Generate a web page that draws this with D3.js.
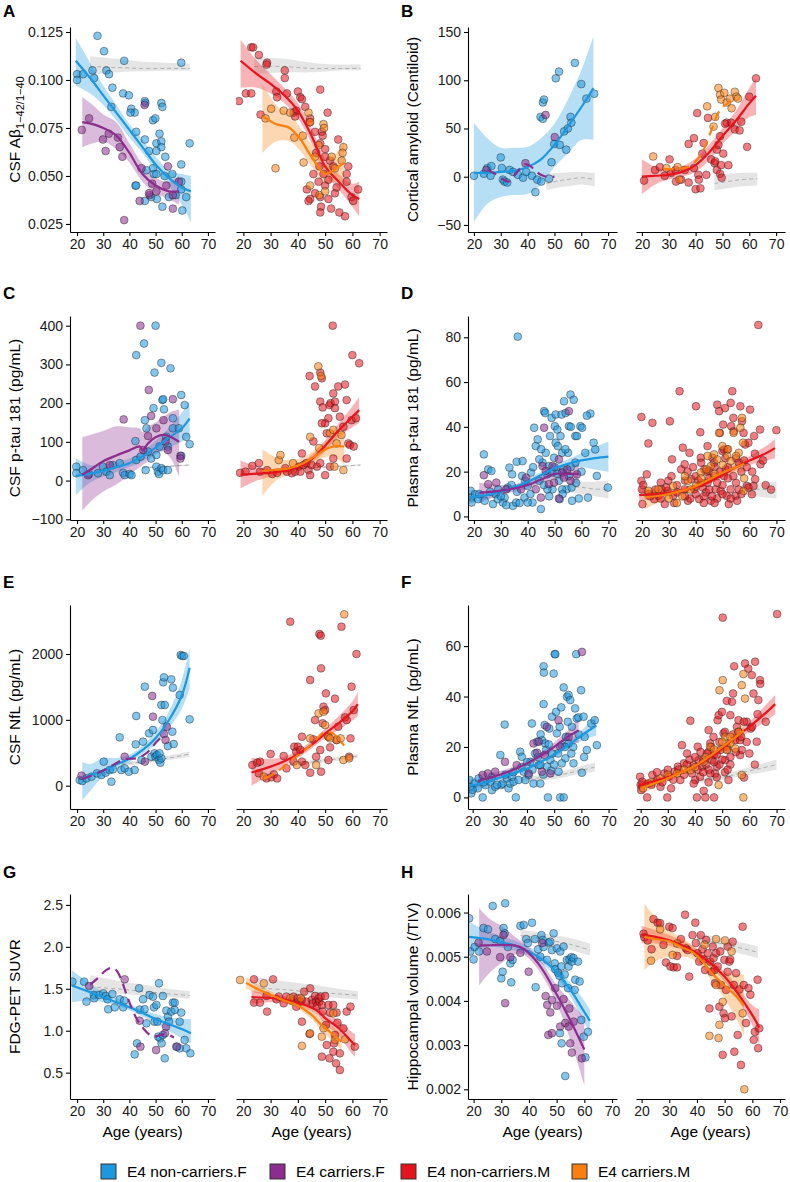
<!DOCTYPE html>
<html><head><meta charset="utf-8">
<script src="https://cdn.jsdelivr.net/npm/d3@7"></script>
<style>body{margin:0;background:#fff} text{font-family:"Liberation Sans",Arial,Helvetica,sans-serif;font-weight:400}</style>
</head><body><svg id="c" width="790" height="1182"></svg>
<script>
// ---------------- DATA ----------------
const xTicks = [20,30,40,50,60,70];
const groupNames = ["E4 non-carriers.F","E4 carriers.F","E4 non-carriers.M","E4 carriers.M"];
const groupColors = ["#1B98DF","#8B2C8E","#E5141C","#F97F0E"];

// Panel A  CSF Abeta ratio
const A_bF = [[27.8,.123],[20,.103],[20,.100],[22.3,.103],[25.9,.105],[26.5,.101],[30.3,.115],[31.2,.105],[32.2,.103],[33.5,.096],[38,.110],[37.6,.093],[39.8,.092],[40.7,.085],[42,.083],[40.4,.083],[33.1,.086],[45.9,.089],[46.1,.088],[49,.079],[49.9,.080],[52.2,.088],[52.6,.086],[51.5,.072],[50.3,.067],[52.2,.068],[52.2,.065],[53.7,.060],[50.3,.063],[42.6,.073],[45.9,.069],[47.5,.063],[49,.054],[49.4,.051],[46.5,.053],[42.3,.045],[42.6,.045],[50.3,.051],[53.4,.050],[56.4,.051],[59.8,.047],[59.8,.043],[60.2,.032],[61.7,.039],[63,.067],[59.8,.056],[52.6,.034],[50.5,.038],[48.3,.039],[45.9,.037],[55.1,.039],[57.7,.040],[59.8,.109]];
const A_pF = [[21.8,.074],[24.6,.080],[29.9,.069],[30.9,.063],[32.1,.072],[35.6,.070],[36.3,.065],[37.3,.060],[38,.027],[45.8,.087],[44.6,.054],[43.9,.037],[47.7,.040],[48.7,.046],[50.3,.042],[54.1,.045],[54.7,.055],[56.6,.040],[56.6,.033],[58.9,.047],[47.5,.041]];
const A_rM = [[18.4,.089],[20.9,.093],[22.9,.093],[22.9,.117],[23.6,.117],[25.7,.113],[28.7,.109],[28.5,.108],[26.3,.082],[32.1,.094],[32.4,.091],[35.2,.105],[35.2,.101],[36,.093],[40,.094],[40.9,.091],[41.5,.090],[38.4,.083],[39.4,.084],[39,.081],[42.7,.086],[44.5,.080],[44.3,.078],[48.2,.095],[46.3,.073],[48.8,.073],[49.1,.071],[48.2,.067],[46.7,.062],[50,.064],[50.9,.083],[54.8,.069],[50,.060],[51.8,.058],[45.7,.051],[47.6,.047],[43.3,.043],[44.5,.038],[43.9,.037],[46.3,.041],[48.2,.039],[48.5,.034],[48.2,.031],[50,.045],[51.2,.038],[52.2,.033],[53.6,.041],[55.2,.031],[57.3,.029],[57.9,.051],[58.5,.055],[57.9,.047],[59.7,.039],[60.3,.037],[62.1,.043],[53,.055],[54.2,.044],[51.2,.048],[47.9,.055],[49.4,.051]];
const A_oM = [[28.1,.080],[30.2,.085],[34.8,.084],[37.2,.083],[41.8,.071],[38.7,.070],[42.1,.057],[43.9,.083],[44.5,.078],[49.4,.077],[49.6,.075],[47.6,.066],[52.4,.060],[56.7,.065],[56.4,.062],[56.1,.058],[53.6,.054],[44.5,.045],[47.9,.040],[50,.042],[46.3,.060],[31.8,.054]];
const A_bF_fit = [[19.5,.110,.097,.122],[25,.101,.093,.109],[30,.092,.087,.097],[35,.083,.079,.087],[40,.074,.070,.077],[45,.065,.062,.069],[50,.056,.053,.060],[55,.049,.045,.053],[60,.044,.035,.051],[63.5,.042,.026,.050]];
const A_pF_fit = [[22,.078,.065,.091],[26,.077,.067,.087],[30,.075,.068,.082],[35,.071,.064,.078],[40,.062,.057,.067],[45,.051,.047,.056],[50,.045,.041,.049],[55,.042,.038,.047],[59,.042,.035,.050]];
const A_rM_fit = [[19,.110,.096,.121],[25,.103,.096,.110],[30,.098,.093,.103],[35,.092,.088,.096],[40,.084,.080,.088],[45,.071,.067,.075],[50,.055,.051,.059],[55,.047,.043,.051],[60,.040,.034,.046],[62.5,.038,.029,.047]];
const A_oM_fit = [[27,.081,.062,.098],[32,.077,.068,.087],[37,.075,.068,.082],[41,.069,.063,.075],[45,.060,.055,.066],[50,.051,.046,.056],[53,.053,.047,.060],[57,.057,.045,.068]];
const A_ctlF = [[25,.107,.1027,.1123],[35,.1065,.104,.111],[45,.106,.1045,.1095],[55,.106,.1048,.109],[63,.106,.105,.1085]];
const A_ctlM = [[24,.107,.103,.112],[35,.107,.104,.111],[45,.106,.104,.109],[55,.106,.105,.108],[63,.106,.105,.108]];

// Panel B  Cortical amyloid
const B_bF = [[20,1],[23.7,3],[25,9],[26.5,11],[26.2,1],[30,20],[30.4,9],[30.8,-3],[31.4,-5],[32.4,-6],[33.3,7],[34.6,5],[36.4,2],[38.3,-1],[39.5,5],[41.6,1],[42.9,-16],[43.6,-3],[45.1,-5],[48,-2],[48.9,15],[44.8,62],[45.7,77],[46.1,80],[45.7,60],[49.9,34],[50.5,102],[51.7,109],[52,33],[53.6,47],[54.4,28],[55,50],[56,62],[56.3,56],[57.6,118],[60,96],[61.9,81],[64.8,86]];
const B_pF = [[24.6,7],[39.2,14],[46.7,64],[50.1,41]];
const B_rM = [[20.8,-4],[24.9,7],[26.7,10],[28.5,1],[30.3,18],[30.9,4],[32.5,7],[32.7,-5],[34.6,-3],[36,7],[37.4,-6],[37.4,34],[39.4,40],[39.4,9],[40,-13],[40.6,66],[41,2],[41.2,-3],[41.8,-12],[42.5,24],[43,35],[44,2],[44.6,61],[45.8,18],[47.1,14],[47.3,16],[47.9,28],[48.5,33],[49.1,42],[47.9,7],[49.1,3],[49.7,-1],[49.5,12],[50.3,24],[51.6,56],[52.2,12],[53.2,56],[54.6,49],[56.4,48],[57,57],[59.2,31],[60,83],[62.5,102],[51,55]];
const B_oM = [[24.2,21],[29.1,9],[33.3,10],[34,-3],[44.3,73],[47.3,62],[46.7,52],[48.5,92],[49.1,85],[49.5,80],[50.7,87],[51.6,77],[54.6,88],[55.2,83],[55.8,81],[52.8,81],[53.4,71]];
const B_bF_fit = [[20,4,-47,56],[25,4,-28,40],[30,5,-21,30],[35,6,-19,30],[40,10,-18,31],[45,18,-8,40],[50,33,10,55],[55,52,24,80],[60,72,38,110],[64.5,92,38,145]];
const B_pF_fit = [[25,7],[28,3],[31,-3],[33,-5],[35,1],[37,8],[39,13],[41,11],[43,6],[45,2],[47,0],[50,0]];
const B_rM_fit = [[20,0,-18,18],[25,1,-8,10],[30,2,-3,8],[35,5,0,11],[40,12,5,19],[45,25,17,33],[50,42,34,50],[55,58,48,68],[60,76,62,92],[62.5,84,64,102]];
const B_oM_fit = [[28,8],[33,8],[37,10],[40,16],[43,28],[45,42],[47,56],[48,64],[50,72],[53,78],[55,82]];
const B_ctlF = [[47,-7,-14,3],[52,-4,-11,4],[57,-2,-9,5],[60,-1,-8,5],[65,-3,-10,4]];
const B_ctlM = [[47,-7,-14,2],[52,-5,-12,3],[57,-3,-10,4],[63,-2,-9,4]];

// Panel C  CSF p-tau 181
const C_bF = [[19.7,36],[19.7,19],[22.3,27],[24.6,17],[28,19],[29.9,36],[31.2,23],[32.5,14],[33.7,40],[36.3,45],[37.6,20],[38.2,14],[40.1,17],[40.8,14],[42.6,53],[44.3,62],[42.3,102],[42.6,324],[45.6,354],[46.5,135],[45.9,156],[46.2,27],[47.1,75],[48.3,57],[49.2,187],[49.6,279],[50,400],[50.3,66],[50.3,36],[50.9,23],[51.3,17],[51.5,88],[52.2,304],[52.6,208],[52.9,210],[53.2,184],[52.2,32],[52.9,27],[54.1,113],[54.7,88],[55.7,290],[56.6,161],[56.6,135],[58.9,135],[59.8,221],[61.1,195],[59.8,64],[61.7,113],[63,94],[54.7,27]];
const C_pF = [[24.2,14],[37.8,158],[44.2,400],[47.4,234],[48.3,167],[53,156],[53.8,101],[54.7,79],[56.6,210],[59.5,64],[59.5,57],[45.3,79],[47.1,115],[50.3,135],[32.5,40]];
const C_rM = [[18.8,20],[20.8,23],[23.3,38],[25.7,45],[26.1,23],[28.7,27],[30.6,17],[32.4,20],[35.4,32],[36,23],[37.8,19],[39,23],[40.3,36],[40.9,23],[41.5,70],[42.1,40],[43.1,45],[43.9,27],[44.5,14],[45.1,40],[44.3,270],[46.3,243],[48.2,279],[48.8,264],[48.2,204],[49.1,189],[50,148],[50.6,122],[51.2,161],[51.6,195],[52,200],[52.8,400],[53,225],[53.6,204],[53.6,187],[54.8,243],[55.4,165],[56.7,139],[57.3,248],[57.9,208],[58.5,96],[59.1,92],[59.7,156],[60,324],[60.5,88],[61.3,161],[62.5,303],[47,36],[48.2,45],[50,14],[51.8,36],[53,57],[57.9,57],[45.7,101],[48.8,148]];
const C_oM = [[33,53],[33.6,66],[44.5,113],[47.5,295],[48.5,270],[51.8,122],[53,131],[54.2,96],[56,118],[56.7,27],[53.4,36],[38.2,45],[47.8,84]];
const C_bF_fit = [[19.5,12,-38,58],[25,18,-5,40],[30,25,10,42],[35,35,22,48],[40,45,35,57],[45,62,50,76],[50,85,68,103],[55,110,85,135],[60,135,100,175],[63,160,115,205]];
const C_pF_fit = [[22,15,-78,112],[25,28,-55,118],[30,50,-28,128],[35,65,-10,140],[40,78,15,138],[44,88,35,135],[45,78,40,125],[47,95,50,140],[50,112,70,150],[53,118,75,165],[56,112,55,178],[59,100,10,183]];
const C_rM_fit = [[19,15,-20,52],[25,18,0,36],[30,20,10,30],[35,25,17,33],[40,35,27,44],[45,55,45,66],[50,90,76,104],[55,130,112,148],[60,165,138,192],[62.5,182,148,215]];
const C_oM_fit = [[27,25,-40,80],[32,28,0,60],[37,32,15,52],[42,45,28,60],[46,62,45,78],[50,80,60,100],[53,88,62,115],[57,88,42,130]];
const C_ctlF = [[45,33,31,35],[55,37,35,39],[63,40,38,42]];
const C_ctlM = [[26,28,26,30],[45,33,31,35],[63,40,38,42]];

// Panel D  Plasma p-tau 181
const D_bF = [[18.8,11.4],[19.1,8.4],[20.4,9.9],[19.1,6.2],[21.6,7.7],[23.7,27.7],[25.3,21],[26.5,20.3],[27.1,5.5],[28.1,9.9],[28.9,7.7],[30.8,6.2],[31.4,8.4],[32.6,12.9],[33.2,21.8],[34.2,18.8],[34.5,4.7],[35.7,6.2],[36.3,80.3],[35.9,24.4],[38.1,24.7],[37.9,18.1],[38.8,8.4],[40,13.6],[41.2,19.6],[41.8,6.2],[42.4,39.6],[43,31.4],[43.7,34.4],[44.3,15.9],[44.9,3.3],[45.5,24],[46.1,47],[46.5,46.2],[46.7,28.4],[47.3,18.8],[47.9,22.5],[48.3,35.9],[48.9,44],[49.2,12.1],[49.8,26.2],[50.1,40.3],[50.4,45.5],[50.4,32.9],[51,38.8],[51.2,31.4],[51.6,15.9],[51.9,7.7],[52.2,35.9],[52.6,45.5],[52.8,28.4],[53.2,21],[53.5,51.4],[54.1,46.2],[54.4,12.1],[55,28.4],[55.3,40.3],[55.9,54.4],[56.3,12.9],[56.5,7],[57.1,52.1],[57.7,35.9],[58.3,35.9],[59.6,40.3],[60.2,39.6],[61.4,28.4],[62.4,8.4],[63.3,45.9],[64.5,32.9],[65.1,29.9],[65.7,18.1],[69.8,12.9],[55.3,18.1],[49.2,19.6],[44.3,25.5],[40,6.2],[52.8,12.1],[57.7,24],[47.3,12.1],[22,10],[24,7],[26,11],[29,12],[30,9],[32,5],[34,14],[36,11],[37,6],[39,16],[41,10],[42,22],[45,30],[46,14],[48,9],[50,22],[51,19],[53,10],[54,30],[56,22],[58,15],[59,8],[60,20],[62,45],[56,40]];
const D_pF = [[23.7,18.4],[25.3,14.4],[28.3,15.1],[32,12.1],[37.5,12.1],[39.4,17.3],[43,12.1],[44.9,8.4],[46.1,39.6],[45.5,22.5],[46.7,20.3],[47.9,14.4],[49.8,15.1],[51.6,25.5],[52.8,19.6],[53.5,17.3],[54.7,21],[55.3,47],[55.9,15.9],[51.6,8],[58.3,18.8],[49.2,22.5]];
const D_rM = [[19.8,44.4],[19.8,15.9],[20,12.1],[20.2,5.5],[21.8,18.8],[22.4,32.6],[23.9,41.8],[24.6,7.7],[26.1,9.2],[27,15.1],[28.5,5.5],[29.5,11.4],[29.8,15.9],[30.4,42.5],[31.2,25.5],[31.6,9.2],[33.2,10.7],[34,55.9],[34.6,21],[35.2,30.7],[35.9,23.3],[37.1,7],[37.7,28.4],[38.3,16.6],[39.5,12.1],[40.1,49.2],[41.3,7.7],[41.7,37.6],[41.9,26.2],[42.6,12.9],[43.2,21],[43.8,10.7],[44.4,31.4],[45,20.3],[45.6,7],[46.2,26.2],[46.8,24],[47.4,12.1],[48,49.9],[48.7,47],[49,37.3],[49.3,11.4],[49.9,29.2],[50.2,41],[50.5,29.9],[50.9,48.4],[51.1,21],[51.5,9.2],[51.7,29.9],[52.3,5.5],[53,50.7],[53.2,40.3],[53.6,55.9],[54,44],[54.1,38],[54.8,9.2],[55.4,7],[56,24],[56.6,49.2],[57.2,42.5],[57.8,37.3],[58.4,32.1],[59,13.6],[59.6,32.9],[60.2,47.7],[60.9,9.9],[61.7,35.9],[62.1,16.6],[63.3,85.5],[63.9,38.8],[64.1,23.3],[70,38.5],[61.5,13.6],[59.6,12.9],[44.4,15],[46.8,18],[50.5,18],[53,12.1],[35.9,12.1],[27.3,12.1],[22.4,10],[38,8],[42,15],[45,12],[48,8],[50,14],[52,17],[55,15],[57,10],[36,16],[40,18],[43,9],[47,6],[33,14],[36,9],[37,20],[39,22],[40,10],[41,16],[42,24],[43,6],[44,20],[45,17],[46,9],[47,22],[48,15],[49,20],[50,10],[51,26],[52,22],[53,8],[54,18],[55,26],[56,12],[57,20],[58,25],[59,22],[61,20],[62,28],[65,25],[66,14],[68,12],[20.5,14],[23,9],[25,12],[27,8],[29,13],[31,18],[32,6]];
const D_oM = [[22.4,11.4],[26.1,12.1],[31.6,13.6],[37.1,15.9],[41.9,19.6],[45.6,22.5],[48,25.5],[49.9,31.4],[51.7,27],[54.1,37.3],[56.6,39.6],[57.2,44],[57.6,32.9],[57.8,11.4],[56,28.4],[53,24.7],[46.8,27.7],[44.4,27],[40.1,13.6],[48.7,37.3],[30,8],[35,9],[38,12],[42,17],[44,21],[47,19],[50,23],[52,30],[55,27],[58,17],[36,18],[33,6]];
const D_bF_fit = [[18,8.5,5.5,12],[25,9.5,8,11],[30,11,9.8,12.2],[35,13,12,14],[40,15.5,14.3,16.8],[45,18.5,17.2,19.8],[50,21.5,20,23.2],[55,23.5,21.6,25.5],[60,25,22,28.3],[65,26,21,31],[70,26.7,20,33.5]];
const D_pF_fit = [[22,10.5,6,15],[30,11.5,9.5,14],[35,12.5,11,14.3],[40,14,12.3,15.8],[45,16.5,14.8,18.3],[50,19,16.7,21.5],[55,19,16,22],[59,19,14,24]];
const D_rM_fit = [[19,9.5,6.5,12.5],[25,10,8.3,11.7],[30,10.5,9.3,11.7],[35,11.5,10.6,12.4],[40,13,12,14],[45,15.5,14.5,16.5],[50,18.5,17.3,19.7],[55,22,20.5,23.5],[60,25,23,27],[65,27.5,24.5,30.5],[69.5,30.5,26,34.5]];
const D_oM_fit = [[21,8.5,3,13.5],[25,9,5.5,12.5],[30,10,7.8,12.2],[35,11.5,10,13],[40,13.5,12.2,14.8],[45,16.5,15,18],[50,19.5,17.8,21.2],[55,22,19.5,24.5],[58,23.5,20,27]];
const D_ctlF = [[55,13.5,11,15.5],[60,13,10,15.5],[65,12.2,9,15.5],[70,12,8,16]];
const D_ctlM = [[57,12.5,10,15],[62,12.2,9,15],[66,12,8.5,15],[70,12,8,15.5]];

// Panel E  CSF NfL
const E_bF = [[21,86],[22,71],[23.6,111],[25.5,137],[27.6,187],[29.3,162],[30.2,365],[30.9,197],[32.5,238],[33.1,61],[33.7,248],[36.3,734],[36.9,238],[38.2,263],[39.8,213],[42,238],[42.4,628],[42.6,1058],[44.6,390],[45.2,668],[45.9,1504],[47.5,795],[48.4,440],[49,846],[49.6,491],[50,440],[50.5,466],[51.3,390],[51.8,349],[52.2,415],[52.2,1225],[52.9,1570],[53.2,1645],[53.5,1225],[52.6,997],[54.7,602],[56,1615],[56.6,1489],[56.4,820],[56.9,633],[59.2,1377],[59.6,1985],[60.2,1970],[60.8,1970],[63,1008],[51.5,491]];
const E_pF = [[21.7,152],[38.2,440],[48.7,1362],[49,1048],[54.3,896],[53.2,785],[53.8,694],[45.9,365]];
const E_rM = [[23.3,314],[25.1,349],[25.7,187],[26.1,365],[28.5,111],[30,481],[30.2,127],[31.2,172],[32.4,111],[34.8,451],[35.8,263],[37.2,2491],[38.4,365],[38.7,592],[39.4,516],[40,592],[40.9,542],[41.5,365],[42.7,314],[44.5,1605],[44.5,197],[45.7,704],[46.3,997],[46.7,440],[47.9,2304],[48.4,2278],[48.5,1782],[48.5,213],[49.1,947],[49.4,1200],[50,1149],[50.3,1402],[51.2,744],[51.8,582],[53.6,1321],[54.2,694],[54.8,896],[56,2415],[57.3,1038],[57.9,997],[58.8,440],[59.3,719],[59.7,1504],[61.5,2000],[60.5,1149],[41.5,744],[48.2,542],[51.2,390]];
const E_oM = [[27.5,137],[39.6,314],[44.5,719],[46.7,314],[47.6,1099],[49.4,1124],[50,921],[51.2,744],[54.2,694],[55.7,719],[57,2602],[56.7,390],[58.8,415],[51.8,719]];
const E_bF_fit = [[22,110,-220,360],[25,160,-80,330],[30,230,140,420],[35,320,250,420],[40,410,360,470],[45,540,480,610],[50,720,630,820],[55,990,870,1120],[60,1370,1160,1600],[63,1790,1480,2100]];
const E_pF_fit = [[22,100],[26,160],[30,230],[34,320],[38,400],[43,420],[46,480],[48,550],[50,650],[52,730],[53.5,790]];
const E_rM_fit = [[23,200,0,420],[30,290,170,410],[35,370,300,440],[40,480,420,540],[45,620,565,680],[50,790,720,860],[55,950,850,1060],[60,1130,990,1280],[62,1240,1060,1420]];
const E_oM_fit = [[28,110],[33,230],[38,400],[42,520],[46,670],[50,820],[53,790],[55,700],[57,610]];
const E_ctlF = [[37,330,300,360],[45,360,330,390],[55,420,390,460],[63,480,440,520]];
const E_ctlM = [[37,330,300,360],[45,360,330,390],[55,410,380,440],[62,450,420,480]];

// Panel F  Plasma NfL
const F_bF = [[18.8,6.9],[19.1,4.2],[19.5,1.6],[20.7,5.5],[21.9,3.6],[22.2,7.5],[23.7,0],[24.7,4.9],[26.5,6.2],[27.1,2.9],[28.3,4.2],[30.2,16.8],[30.5,4.9],[31,5.5],[31.8,28.9],[32.6,7.5],[33.2,3.6],[33.8,5.5],[34.5,8.2],[35.1,6.2],[35.9,0],[36.9,6.9],[37.5,18.1],[38.1,16.1],[38.8,10.2],[39.4,6.9],[40.6,8.9],[41.2,14.1],[41.8,29.3],[42.4,5.5],[43,17.4],[43.7,22.1],[44.3,12.8],[44.9,5.5],[45.5,22.7],[46.1,52],[46.2,49.5],[46.1,37],[46.5,28.7],[46.7,21.4],[47,18.8],[47.3,12.2],[47.7,0],[48.2,27.3],[48.6,14.8],[48.9,10.6],[49.2,32],[49.8,49.1],[50.2,56.8],[50.4,56.8],[50.7,33.9],[51,25.4],[51.4,17.4],[51.6,10.2],[52.2,0],[52.6,35.7],[52.8,20.7],[53.5,43.6],[53.5,0],[54.1,15.5],[54.3,24],[54.7,39.9],[55.3,40.6],[55.9,38.6],[56.3,17.4],[56.5,28],[57.1,13.5],[57.7,35.3],[58.1,56.8],[58.3,31.3],[58.9,31.7],[59.9,42.5],[60.2,9.8],[60.8,32],[61.2,24],[62,18.8],[63.6,29.3],[64.9,30.6],[65.7,20.7],[55.3,21.4],[49.2,17.4],[44.9,12.8],[52.8,13.5],[20,3],[24,6],[27,8],[29,5],[32,9],[35,10],[38,12],[40,14],[42,11],[44,16],[46,9],[48,21],[50,13],[52,28],[54,20],[55,30],[57,20],[59,25],[61,16],[45,25]];
const F_pF = [[23.7,8.9],[25.6,9.5],[28.3,10.2],[31.9,14.1],[36.2,12.8],[40.6,9.5],[42.4,21.4],[43.7,17.7],[44.3,22.1],[46.5,16.8],[47.3,28],[48.6,9.5],[51.6,30.6],[52.2,20.1],[55.3,24],[60.2,57.7],[45.5,10.2]];
const F_rM = [[19.8,8.2],[20,4.9],[20.2,2.9],[20.6,6.2],[22.4,0],[22.7,5.5],[24.3,8.9],[26.1,6.9],[27.3,4.2],[28.8,9.5],[29.8,0],[30.4,8.2],[31.2,3.6],[32.5,10.2],[33.7,12.2],[34.6,6.9],[35.2,20.7],[35.9,13.5],[37.1,17.4],[38.3,30.4],[38.9,9.5],[39.5,12.8],[40.1,6.9],[40.7,0],[41,20.1],[41.3,14.8],[41.9,8.2],[42.6,12.2],[43.2,2.6],[43.8,0],[44.4,17.4],[45,26.7],[45.6,21.4],[46.2,14.8],[47,0],[47.4,9.5],[48,12.2],[48.3,30.6],[48.7,32.6],[49.3,18.8],[49.9,33.9],[50.2,71.3],[50.5,25.4],[51.1,14.8],[51.7,38.3],[52.3,6.9],[53,32.6],[53.6,37.9],[54,41.2],[54.4,52],[54.8,22.7],[55.4,28],[56,30.6],[56.6,16.8],[57.2,18.8],[58,7.9],[58.4,53.1],[59,30],[59.6,51.1],[60,17.4],[60.5,27.3],[60.9,48.5],[61.5,41.2],[62.1,53.8],[62.7,22.1],[63.3,38.6],[63.9,46.5],[70.2,72.7],[46.8,24],[51.7,20.1],[56.6,22.7],[45.6,9.5],[39.5,5.5],[43,15],[45,11],[47,17],[49,13],[51,10],[53,16],[24,5],[26,10],[28,6],[30,11],[32,7],[34,11],[36,9],[37,13],[38,15],[40,16],[41,11],[42,18],[43,10],[44,13],[45,18],[46,20],[47,14],[48,17],[49,22],[50,15],[51,26],[52,19],[53,13],[54,25],[55,18],[56,26],[57,24],[58,30],[59,22],[61,28],[62,13],[63,33],[64,45],[66,30],[45,6],[48,8],[52,11]];
const F_oM = [[20.9,3.6],[27.3,7.5],[33.4,9.5],[38.3,10.8],[43.2,14.1],[45.6,20.1],[48.7,4.9],[49,42.5],[50.2,46.5],[51.1,24],[51.7,18.8],[57.2,44.5],[57.8,48.9],[58.4,39.2],[57.8,0],[57.2,8.9],[53,21.4],[54.8,19.4],[24,6],[30,9],[36,11],[40,12],[44,16],[47,19],[50,22],[53,24],[56,26]];
const F_bF_fit = [[18,4.5,1,8],[25,6,4.2,7.8],[30,7.8,6.8,8.8],[35,9.5,8.7,10.3],[40,11.5,10.8,12.2],[45,14,13.2,14.8],[50,17,16,18],[55,20.5,19.2,21.8],[60,24.5,22.5,26.5],[65.5,28.5,24.5,32.5]];
const F_pF_fit = [[22,6.5,4,9.5],[30,9,7.5,10.5],[35,11,9.8,12.2],[40,13.5,12.3,14.7],[45,16.5,15.2,17.8],[50,20,18.2,21.8],[55,24,21.5,26.5],[59,26.5,21.5,31.5]];
const F_rM_fit = [[19,4.5,2.5,6.5],[25,6.5,5.3,7.7],[30,8,7,9],[35,10,9.2,10.8],[40,12.5,11.6,13.4],[45,15.5,14.6,16.4],[50,19.5,18.4,20.6],[55,24,22.6,25.4],[60,28,26,30],[65,32.5,29.5,35.5],[69.5,37,33,40.5]];
const F_oM_fit = [[20,3.5,1,7],[25,5.5,3.8,7.2],[30,7.5,6.3,8.7],[35,10,9,11],[40,12.5,11.4,13.6],[45,16,14.7,17.3],[50,20,18.4,21.6],[55,24,21.5,26.5],[58,26.5,22.5,30.5]];
const F_ctlF = [[38,7,6,8],[50,8.5,7.3,9.7],[58,10.3,9,11.8],[65,12,10.3,13.8]];
const F_ctlM = [[40,6.5,5.5,7.5],[50,8,7,9.2],[60,10.5,9,12],[70,13,11,15]];

// Panel G  FDG-PET SUVR
const G_bF = [[18.2,1.585],[22.7,1.585],[23.6,1.347],[26.4,1.426],[26.5,1.387],[28.4,1.426],[30,1.446],[31,1.414],[31.6,1.375],[31.9,1.256],[33.5,1.438],[34.4,1.279],[36.3,1.375],[37.6,1.279],[38,1.359],[43.7,1.506],[43.9,1.252],[42.9,0.85],[42,0.718],[45.2,1.375],[45.8,1.256],[46.5,1.088],[47.7,1.426],[49,1.406],[49.4,1.279],[49.6,1.108],[50.3,1.307],[50.7,1.108],[51.3,1.566],[51,0.929],[51.7,0.91],[52.3,0.85],[52.8,1.414],[52.8,0.949],[53.5,0.671],[54.1,1.24],[54.7,1.168],[55.1,1.108],[56,1.228],[56.6,1.335],[57.3,1.248],[57.3,1.335],[57.9,0.81],[59.2,1.108],[59.8,1.216],[61.1,0.89],[61.7,0.79],[63.3,0.731],[59.2,0.79]];
const G_pF = [[24.6,1.534],[38.2,1.613],[43.9,1.12],[44.2,0.81],[50.2,0.77],[54,1.048],[53.6,0.969],[58.2,0.81]];
const G_rM = [[23.9,1.613],[23.9,1.335],[26.1,1.335],[28.5,1.414],[28.7,1.228],[30.9,1.613],[32.1,1.375],[33,1.407],[34.8,1.327],[35.8,1.407],[37.8,1.359],[38.4,1.407],[39.4,1.287],[39.9,1.387],[40.9,1.347],[41.5,1.108],[41.5,1.367],[42.3,1.466],[43.1,1.347],[44.5,1.506],[44.3,0.961],[45.1,1.367],[45.5,1.327],[46.3,1.414],[46.7,1.347],[47,1.295],[47.6,1.387],[47.9,1.347],[48.4,1.406],[48.8,1.307],[49.1,1.228],[48.8,0.691],[50,1.414],[50.3,1.068],[50.6,0.83],[51.2,1.307],[51.6,0.671],[51.8,1.216],[53,0.75],[53.3,0.85],[53.6,0.949],[54,0.611],[54.2,1.216],[54.5,1.096],[55.4,0.731],[55.4,0.532],[56.7,1.029],[57.9,1.228],[59.3,1.287],[60.9,0.81],[53,1.307]];
const G_oM = [[18.8,1.605],[27.5,1.565],[37.2,1.387],[41.1,1.387],[41.5,0.82],[44.5,0.969],[48.8,0.929],[49.4,1.029],[53.6,0.89],[57.3,0.898],[53,1.208]];
const G_bF_fit = [[18,1.54,1.34,1.72],[25,1.46,1.36,1.56],[30,1.40,1.34,1.46],[35,1.34,1.30,1.39],[40,1.28,1.24,1.32],[45,1.21,1.17,1.25],[50,1.14,1.09,1.20],[55,1.08,1.00,1.16],[60,1.02,0.91,1.14],[63.5,0.97,0.85,1.14]];
const G_pF_fit = [[25,1.55],[28,1.63],[31,1.72],[33,1.75],[35,1.72],[37,1.60],[39,1.42],[41,1.26],[43,1.13],[45,1.04],[47,0.97],[49,0.93],[51,0.94],[54,0.96],[57,0.92]];
const G_rM_fit = [[23,1.40,1.32,1.48],[30,1.39,1.34,1.44],[35,1.37,1.33,1.41],[40,1.33,1.29,1.37],[44,1.29,1.25,1.33],[47,1.24,1.19,1.29],[50,1.15,1.08,1.22],[55,1.03,0.94,1.12],[60,0.86,0.72,0.98],[61,0.83,0.69,0.96]];
const G_oM_fit = [[21,1.57,1.50,1.64],[25,1.50,1.45,1.56],[30,1.43,1.39,1.47],[35,1.36,1.33,1.40],[40,1.30,1.26,1.34],[45,1.19,1.14,1.25],[48,1.09,1.03,1.16],[52,0.98,0.90,1.06],[56,0.87,0.77,0.97]];
const G_ctlF = [[25,1.52,1.46,1.66],[35,1.50,1.44,1.60],[45,1.47,1.42,1.55],[55,1.44,1.40,1.50],[63,1.42,1.38,1.47]];
const G_ctlM = [[24,1.51,1.45,1.64],[35,1.49,1.44,1.59],[45,1.46,1.41,1.55],[55,1.44,1.39,1.50],[62,1.42,1.37,1.47]];

// Panel H  Hippocampal volume
const H_bF = [[18.4,.00587],[18.8,.00512],[20,.00494],[20.4,.00522],[22,.00512],[23.6,.00565],[25.2,.00562],[26.9,.00615],[27.8,.0054],[29.6,.00536],[30,.00451],[30.5,.00466],[30.8,.00565],[31.2,.00553],[31.4,.00621],[32.4,.00522],[33.3,.00485],[33.6,.00442],[34.1,.00493],[36.9,.0057],[38.1,.00572],[39,.0054],[39.6,.00531],[41.1,.00577],[42.1,.0054],[42.4,.00431],[43.3,.00517],[44.1,.005],[44.5,.00549],[45,.00538],[45.3,.00522],[46.5,.00493],[47.1,.00532],[47.7,.00534],[48.3,.00515],[48.9,.00553],[49.3,.00485],[49.5,.00472],[50.1,.00519],[50.5,.00464],[51,.00457],[51.3,.00512],[51.7,.00478],[51.9,.0044],[52.5,.00523],[52.9,.0046],[53.1,.0023],[53.7,.00493],[54.1,.00429],[54.3,.00478],[54.6,.00494],[55.3,.00499],[55.5,.00489],[56.1,.00497],[56.5,.00425],[56.7,.00448],[57.7,.00489],[58.3,.00444],[58.9,.00357],[59.8,.00319],[60.4,.00272],[61.3,.0033],[51.2,.00327],[51.8,.00304]];
const H_pF = [[21.8,.00532],[24.8,.00512],[29.6,.00499],[30.8,.00549],[31.4,.00395],[33.3,.00499],[36.9,.00509],[39.9,.00466],[44.8,.00531],[46,.00411],[46.6,.00391],[47,.00323],[47.7,.00374],[48.3,.00327],[49.5,.00429],[50.1,.00389],[51.3,.00342],[52.5,.00404],[53.1,.0035],[54.3,.00342],[54.6,.00383],[54.9,.00304],[55.5,.00283],[56.1,.00353],[59.1,.0027],[48.3,.00402]];
const H_rM = [[20.7,.00552],[21,.00544],[22.2,.00537],[23.6,.00517],[24.3,.00585],[25.8,.00577],[26.7,.00576],[27.9,.00527],[28.8,.00487],[30,.00568],[30.4,.00478],[31.2,.00565],[31.6,.00476],[32.8,.00476],[32.8,.00502],[34.2,.0054],[35.7,.00595],[36,.00519],[37.2,.00455],[38.4,.00549],[39.4,.00577],[39.6,.00531],[40.2,.00508],[40.8,.00489],[41.4,.00549],[42,.00517],[42.4,.00494],[42.9,.0047],[43.3,.00538],[43.9,.00508],[44.5,.00383],[44.8,.00489],[45.3,.00466],[45.7,.00523],[46,.00497],[46.5,.0044],[46.9,.00508],[47.5,.00478],[48.1,.00387],[48.4,.00512],[48.7,.00436],[49.3,.00278],[49.6,.00372],[49.9,.00493],[50.1,.00361],[50.5,.00425],[51.1,.00466],[51.7,.00489],[52,.00494],[52.5,.00365],[52.9,.00534],[53.3,.00436],[53.5,.00285],[54.1,.00463],[54.7,.00323],[55.3,.00426],[55.9,.00255],[56.5,.00568],[56.9,.00436],[57.7,.0035],[58.6,.00429],[59.3,.00414],[60.5,.00312],[60.9,.0033],[61.9,.00448],[62.1,.00293],[62.5,.00338],[36.6,.00515],[46.3,.0047],[51.1,.00523]];
const H_oM = [[23.4,.00491],[26.7,.00562],[31.2,.00504],[32.8,.0053],[42.7,.00527],[44.5,.00321],[46.9,.0054],[48.1,.00346],[47.8,.00316],[49.3,.00398],[50.1,.00537],[52.5,.00512],[56.5,.00372],[57.1,.002],[46.9,.00436]];
const H_bF_fit = [[18,.00545,.0051,.0058],[25,.0054,.00522,.00558],[30,.00533,.0052,.00546],[35,.00525,.00514,.00536],[40,.00512,.00502,.00522],[45,.00493,.00483,.00503],[50,.00465,.00453,.00477],[55,.00425,.0041,.0044],[60,.00375,.0035,.004],[62,.00355,.0033,.0038]];
const H_pF_fit = [[22,.00525,.00435,.0061],[26,.00526,.00465,.00585],[30,.00527,.00485,.0057],[35,.00525,.00505,.00545],[38,.00518,.00505,.00531],[42,.00495,.00482,.00508],[45,.0047,.00455,.00485],[50,.00415,.00395,.00435],[55,.00355,.0031,.004],[60,.0029,.0021,.0036]];
const H_rM_fit = [[20,.0055,.0053,.0057],[25,.00545,.0053,.0056],[30,.00537,.00525,.00549],[35,.00525,.00515,.00535],[40,.00508,.00498,.00518],[45,.00485,.00475,.00495],[50,.00455,.00444,.00466],[55,.00415,.004,.0043],[60,.00368,.00345,.0039],[62.5,.0034,.003,.0038]];
const H_oM_fit = [[21,.00545,.0047,.0062],[25,.0054,.0049,.0059],[30,.00535,.005,.0056],[35,.0052,.005,.0054],[38,.00512,.00496,.00528],[42,.0049,.00475,.00505],[45,.00465,.00448,.00482],[50,.00435,.00405,.00465],[55,.00405,.0035,.0046],[57,.0039,.0032,.0046]];
const H_ctlF = [[37,.00548,.00535,.00562],[45,.0054,.00528,.00553],[55,.00528,.00515,.00542],[62,.00515,.00502,.0053]];
const H_ctlM = [[40,.0054,.00527,.00553],[50,.00528,.00515,.00541],[62,.0051,.00497,.00523]];

// axis settings
const yTicksA = [0.025,0.050,0.075,0.100,0.125];
const yTicksB = [-50,0,50,100,150];
const yTicksC = [-100,0,100,200,300,400];
const yTicksD = [0,20,40,60,80];
const yTicksE = [0,1000,2000];
const yTicksF = [0,20,40,60];
const yTicksG = [0.5,1.0,1.5,2.0,2.5];
const yTicksH = [0.002,0.003,0.004,0.005,0.006];

// ---------------- LAYOUT ----------------
const rowTop = [27,316,605,894], rowBot = [232,520,809,1099];
const letterY = [17,299,588,878];
const subX = [[[70,145],[236,151]],[[468,149],[636,149]]];
const ylabX = [20,418], letterX = [3,401];

const panels = [
 {id:"A",col:0,row:0,ylab:"A",ydom:[0.0208,0.1276],ticks:yTicksA,fmt:".3f",xdom:[17.3,72.7],
  F:[A_bF,A_pF,A_bF_fit,A_pF_fit,A_ctlF],M:[A_rM,A_oM,A_rM_fit,A_oM_fit,A_ctlM]},
 {id:"B",col:1,row:0,ylab:"Cortical amyloid (Centiloid)",ydom:[-57.3,155.2],ticks:yTicksB,fmt:"d",xdom:[17.8,73.3],
  F:[B_bF,B_pF,B_bF_fit,B_pF_fit,B_ctlF],M:[B_rM,B_oM,B_rM_fit,B_oM_fit,B_ctlM]},
 {id:"C",col:0,row:1,ylab:"CSF p-tau 181 (pg/mL)",ydom:[-101.8,425],ticks:yTicksC,fmt:"d",xdom:[17.3,72.7],
  F:[C_bF,C_pF,C_bF_fit,C_pF_fit,C_ctlF],M:[C_rM,C_oM,C_rM_fit,C_oM_fit,C_ctlM]},
 {id:"D",col:1,row:1,ylab:"Plasma p-tau 181 (pg/mL)",ydom:[-1.6,89.5],ticks:yTicksD,fmt:"d",xdom:[17.8,73.2],
  F:[D_bF,D_pF,D_bF_fit,D_pF_fit,D_ctlF],M:[D_rM,D_oM,D_rM_fit,D_oM_fit,D_ctlM]},
 {id:"E",col:0,row:2,ylab:"CSF NfL (pg/mL)",ydom:[-354,2744],ticks:yTicksE,fmt:"d",xdom:[17.3,72.7],
  F:[E_bF,E_pF,E_bF_fit,E_pF_fit,E_ctlF],M:[E_rM,E_oM,E_rM_fit,E_oM_fit,E_ctlM]},
 {id:"F",col:1,row:2,ylab:"Plasma NfL (pg/mL)",ydom:[-4.6,76.3],ticks:yTicksF,fmt:"d",xdom:[18.3,73.1],
  F:[F_bF,F_pF,F_bF_fit,F_pF_fit,F_ctlF],M:[F_rM,F_oM,F_rM_fit,F_oM_fit,F_ctlM]},
 {id:"G",col:0,row:3,ylab:"FDG-PET SUVR",ydom:[0.186,2.63],ticks:yTicksG,fmt:".1f",xdom:[17.3,72.7],
  F:[G_bF,G_pF,G_bF_fit,G_pF_fit,G_ctlF],M:[G_rM,G_oM,G_rM_fit,G_oM_fit,G_ctlM]},
 {id:"H",col:1,row:3,ylab:"Hippocampal volume (/TIV)",ydom:[0.00178,0.00642],ticks:yTicksH,fmt:".3f",xdom:[17.98,71.8],
  F:[H_bF,H_pF,H_bF_fit,H_pF_fit,H_ctlF],M:[H_rM,H_oM,H_rM_fit,H_oM_fit,H_ctlM]}
];

// ---------------- DRAW ----------------
const svg = d3.select("#c");
const defs = svg.append("defs");
const curve = d3.curveCatmullRom.alpha(0.5);
let clipN = 0;

function styleAxis(g){
  g.selectAll(".domain").attr("stroke","#000").attr("stroke-width",1.1);
  g.selectAll(".tick line").attr("stroke","#000").attr("stroke-width",1.1);
  g.selectAll(".tick text").attr("fill","#1a1a1a").style("font-size","14px")
   .style("font-family","'Liberation Sans',Arial,sans-serif");
}

panels.forEach(p=>{
  const y = d3.scaleLinear().domain(p.ydom).range([rowBot[p.row], rowTop[p.row]]);
  [p.F, p.M].forEach((set, side)=>{
    const [sx, sw] = subX[p.col][side];
    const x = d3.scaleLinear().domain(p.xdom).range([sx, sx+sw]);
    const cid = "clip"+(clipN++);
    defs.append("clipPath").attr("id",cid).append("rect")
      .attr("x",sx).attr("y",rowTop[p.row]).attr("width",sw).attr("height",rowBot[p.row]-rowTop[p.row]);
    const g = svg.append("g").attr("clip-path",`url(#${cid})`);
    const [pts1, pts2, fit1, fit2, ctl] = set;
    const c1 = groupColors[side*2], c2 = groupColors[side*2+1];
    const area = d3.area().x(d=>x(d[0])).y0(d=>y(d[2])).y1(d=>y(d[3])).curve(curve);
    const line = d3.line().x(d=>x(d[0])).y(d=>y(d[1])).curve(curve);
    // control band
    g.append("path").datum(ctl).attr("d",area).attr("fill","#cfcfcf").attr("fill-opacity",0.55);
    g.append("path").datum(ctl).attr("d",line).attr("fill","none").attr("stroke","#a8a8a8")
      .attr("stroke-width",0.9).attr("stroke-dasharray","4,3");
    // ribbons
    [[fit1,c1],[fit2,c2]].forEach(([f,c])=>{
      if(f[0].length===4) g.append("path").datum(f).attr("d",area).attr("fill",c).attr("fill-opacity",0.32);
    });
    // points
    [[pts1,c1],[pts2,c2]].forEach(([pts,c])=>{
      g.append("g").selectAll("circle").data(pts).join("circle")
        .attr("cx",d=>x(d[0])).attr("cy",d=>y(d[1])).attr("r",3.9)
        .attr("fill",c).attr("fill-opacity",0.55)
        .attr("stroke","#1a1a1a").attr("stroke-opacity",0.7).attr("stroke-width",0.6);
    });
    // fitted lines
    [[fit1,c1],[fit2,c2]].forEach(([f,c])=>{
      const dashed = f[0].length===2;
      g.append("path").datum(f).attr("d",line).attr("fill","none").attr("stroke",c)
        .attr("stroke-width",2.2).attr("stroke-linecap","butt")
        .attr("stroke-dasharray",dashed?"10,6":null);
    });
    // x axis
    const ax = svg.append("g").attr("transform",`translate(0,${rowBot[p.row]})`)
      .call(d3.axisBottom(x).tickValues(xTicks).tickSize(4).tickSizeOuter(0).tickPadding(3));
    styleAxis(ax);
    if(p.row===3){
      svg.append("text").attr("x",sx+sw/2).attr("y",1137).attr("text-anchor","middle")
        .style("font-size","15.5px").attr("fill","#000").text("Age (years)");
    }
  });
  // y axis
  const ay = svg.append("g").attr("transform",`translate(${subX[p.col][0][0]},0)`)
    .call(d3.axisLeft(y).tickValues(p.ticks).tickFormat(d3.format(p.fmt)).tickSize(4).tickSizeOuter(0).tickPadding(3));
  styleAxis(ay);
  // y label
  const cy = (rowTop[p.row]+rowBot[p.row])/2;
  const t = svg.append("text").attr("transform",`translate(${ylabX[p.col]},${cy}) rotate(-90)`)
    .attr("text-anchor","middle").style("font-size","15.5px").attr("fill","#000");
  if(p.id==="A"){
    t.append("tspan").text("CSF A\u03b2");
    t.append("tspan").attr("dy",4).style("font-size","11px").text("1\u221242/1\u221240");
  } else t.text(p.ylab);
  // panel letter
  svg.append("text").attr("x",letterX[p.col]).attr("y",letterY[p.row])
    .style("font-size","17px").style("font-weight","bold").attr("fill","#000").text(p.id);
});

// legend
const legX = [101,270,401,572];
const lg = svg.append("g");
groupNames.forEach((n,i)=>{
  lg.append("rect").attr("x",legX[i]).attr("y",1164).attr("width",15).attr("height",15)
    .attr("fill",groupColors[i]).attr("stroke","#333").attr("stroke-width",1);
  lg.append("text").attr("x",legX[i]+26).attr("y",1177).style("font-size","15.5px").attr("fill","#000").text(n);
});
</script></body></html>
